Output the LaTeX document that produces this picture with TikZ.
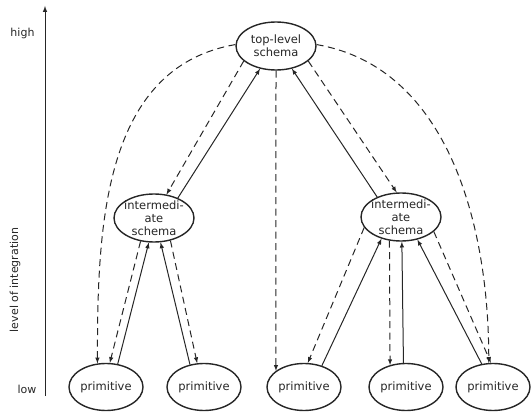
\documentclass[tikz,border=0pt]{standalone}
\usepackage{fontspec}
\setmainfont{DejaVu Sans}
\usetikzlibrary{shapes,arrows}
\definecolor{tinta}{gray}{0.15}

\tikzset{
  esquema/.style={ellipse, draw=tinta, text=tinta, line width=1.4pt, inner sep=-4pt,
    minimum width=80pt, minimum height=48pt, align=center,
    font=\fontsize{11.5}{13}\selectfont},
  primitivo/.style={esquema, minimum width=74pt, minimum height=47pt},
  sube/.style={draw=tinta, line width=1pt, -latex},
  baja/.style={draw=tinta, line width=1pt, dash pattern=on 7pt off 4.5pt, -latex},
  rotulo/.style={text=tinta, font=\fontsize{11}{12}\selectfont}
}

\begin{document}
\begin{tikzpicture}[x=1pt,y=-1pt]
        \useasboundingbox (0,0) rectangle (531,412);
        % eje de integracion
        \coordinate (ejeabajo) at (45,396);
        \coordinate (ejearriba) at (45,6);
        \draw[tinta, line width=1pt, -latex] (ejeabajo) -- (ejearriba);
        \node[rotulo, anchor=east] (alto) at (38,33) {high};
        \node[rotulo, anchor=east] (bajo) at (40,389) {low};
        \node[rotulo, rotate=90] (nivel) at (15,280) {level of integration};
        % esquemas
        \node[esquema] (top) at (276,46) {top-level\\schema};
        \node[esquema] (li) at (154,218) {intermedi-\\ate\\schema};
        \node[esquema] (ri) at (401,217) {intermedi-\\ate\\schema};
        \foreach \nombre/\x in {p1/106,p2/204,p3/304,p4/406,p5/493}
        \node[primitivo] (\nombre) at (\x,387) {primitive};
        % cima <-> intermedio izquierdo
        \draw[sube] (li.40) -- (top.235);
        \draw[baja] (top.205) -- (li.62);
        \draw[baja] (top.178) .. controls +(-133,23) and +(0,-135) .. (p1.110);
        % cima -> primitivo central
        \draw[baja] (top.south) -- (p3.150);
        % cima <-> intermedio derecho
        \draw[sube] (ri.140) -- (top.305);
        \draw[baja] (top.335) -- (ri.100);
        \draw[baja] (top.2) .. controls +(133,23) and +(0,-135) .. (p5.100);
        % intermedio izquierdo <-> primitivos
        \draw[sube] (p1.63) -- (li.258);
        \draw[baja] (li.240) -- (p1.81);
        \draw[sube] (p2.122) -- (li.285);
        \draw[baja] (li.306) -- (p2.106);
        % intermedio derecho <-> primitivos
        \draw[baja] (ri.196) -- (p3.81);
        \draw[sube] (p3.50) -- (ri.228);
        \draw[baja] (ri.244) -- (p4.126);
        \draw[sube] (p4.96) -- (ri.272);
        \draw[sube] (p5.116) -- (ri.306);
        \draw[baja] (ri.336) -- (p5.95);
\end{tikzpicture}
\end{document}
